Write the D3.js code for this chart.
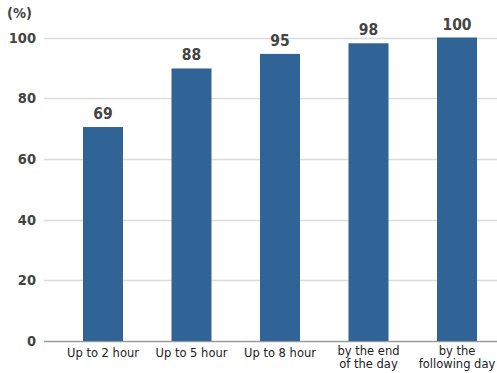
<!DOCTYPE html>
<html>
<head>
<meta charset="utf-8">
<script src="https://cdn.jsdelivr.net/npm/d3@7"></script>
<style>
  body { margin: 0; background: #fff; }
  svg { display: block; }
</style>
</head>
<body>
<div id="chart"></div>
<script>
// categories (x axis), bar heights as drawn, and the printed value labels
const categories = ["Up to 2 hour", "Up to 5 hour", "Up to 8 hour", "by the end\nof the day", "by the\nfollowing day"];
const barValues = [70.5, 89.8, 94.6, 98.1, 100];
const valueLabels = ["69", "88", "95", "98", "100"];
const yTicks = [0, 20, 40, 60, 80, 100];

let width = 497, height = 373;
const numFont = "'DejaVu Sans Condensed', 'DejaVu Sans', sans-serif";

let svg = d3.select("#chart")
  .append("svg")
  .attr("width", width)
  .attr("height", height)
  .style("font-family", "'DejaVu Sans', Verdana, sans-serif");

let yscale = d3.scaleLinear()
  .domain([0, 100])
  .range([341, 37.5]);

let xscale = d3.scaleBand()
  .domain(categories)
  .range([58.75, 501.25])
  .paddingInner(0.548)
  .paddingOuter(0.274);

// gridlines
svg.append("g")
  .selectAll("line")
  .data(yTicks)
  .join("line")
  .attr("x1", 44)
  .attr("x2", width)
  .attr("y1", d => Math.round(yscale(d)) + 0.5)
  .attr("y2", d => Math.round(yscale(d)) + 0.5)
  .attr("stroke", d => d === 0 ? "#9a9a9a" : "#dcdcdc")
  .attr("stroke-width", 1.5);

// y tick labels
svg.append("g")
  .selectAll("text")
  .data(yTicks)
  .join("text")
  .attr("x", 36)
  .attr("y", d => yscale(d) + 5)
  .attr("text-anchor", "end")
  .attr("font-family", numFont)
  .attr("font-size", 14.5)
  .attr("font-weight", "bold")
  .attr("fill", "#444")
  .text(d => d);

svg.append("text")
  .attr("x", 7)
  .attr("y", 18)
  .attr("font-family", numFont)
  .attr("font-size", 14.5)
  .attr("font-weight", "bold")
  .attr("fill", "#444")
  .text("(%)");

// bars
svg.append("g")
  .selectAll("rect")
  .data(categories)
  .join("rect")
  .attr("x", d => xscale(d))
  .attr("y", (d, i) => yscale(barValues[i]))
  .attr("width", xscale.bandwidth())
  .attr("height", (d, i) => yscale(0) - yscale(barValues[i]))
  .attr("fill", "#306496");

// value labels
svg.append("g")
  .selectAll("text")
  .data(categories)
  .join("text")
  .attr("x", d => xscale(d) + xscale.bandwidth() / 2)
  .attr("y", (d, i) => yscale(barValues[i]) - 8)
  .attr("text-anchor", "middle")
  .attr("font-family", numFont)
  .attr("font-size", 15.5)
  .attr("font-weight", "bold")
  .attr("fill", "#444")
  .text((d, i) => valueLabels[i]);

// x category labels
let xlabels = svg.append("g")
  .selectAll("text")
  .data(categories)
  .join("text")
  .attr("x", d => xscale(d) + xscale.bandwidth() / 2)
  .attr("y", d => d.includes("\n") ? 355 : 357)
  .attr("text-anchor", "middle")
  .attr("font-size", 11.5)
  .attr("fill", "#222");

xlabels.each(function (d) {
  const lines = d.split("\n");
  const cx = xscale(d) + xscale.bandwidth() / 2;
  d3.select(this).selectAll("tspan")
    .data(lines)
    .join("tspan")
    .attr("x", cx)
    .attr("dy", (l, i) => i === 0 ? 0 : 12.5)
    .text(l => l);
});
</script>
</body>
</html>
